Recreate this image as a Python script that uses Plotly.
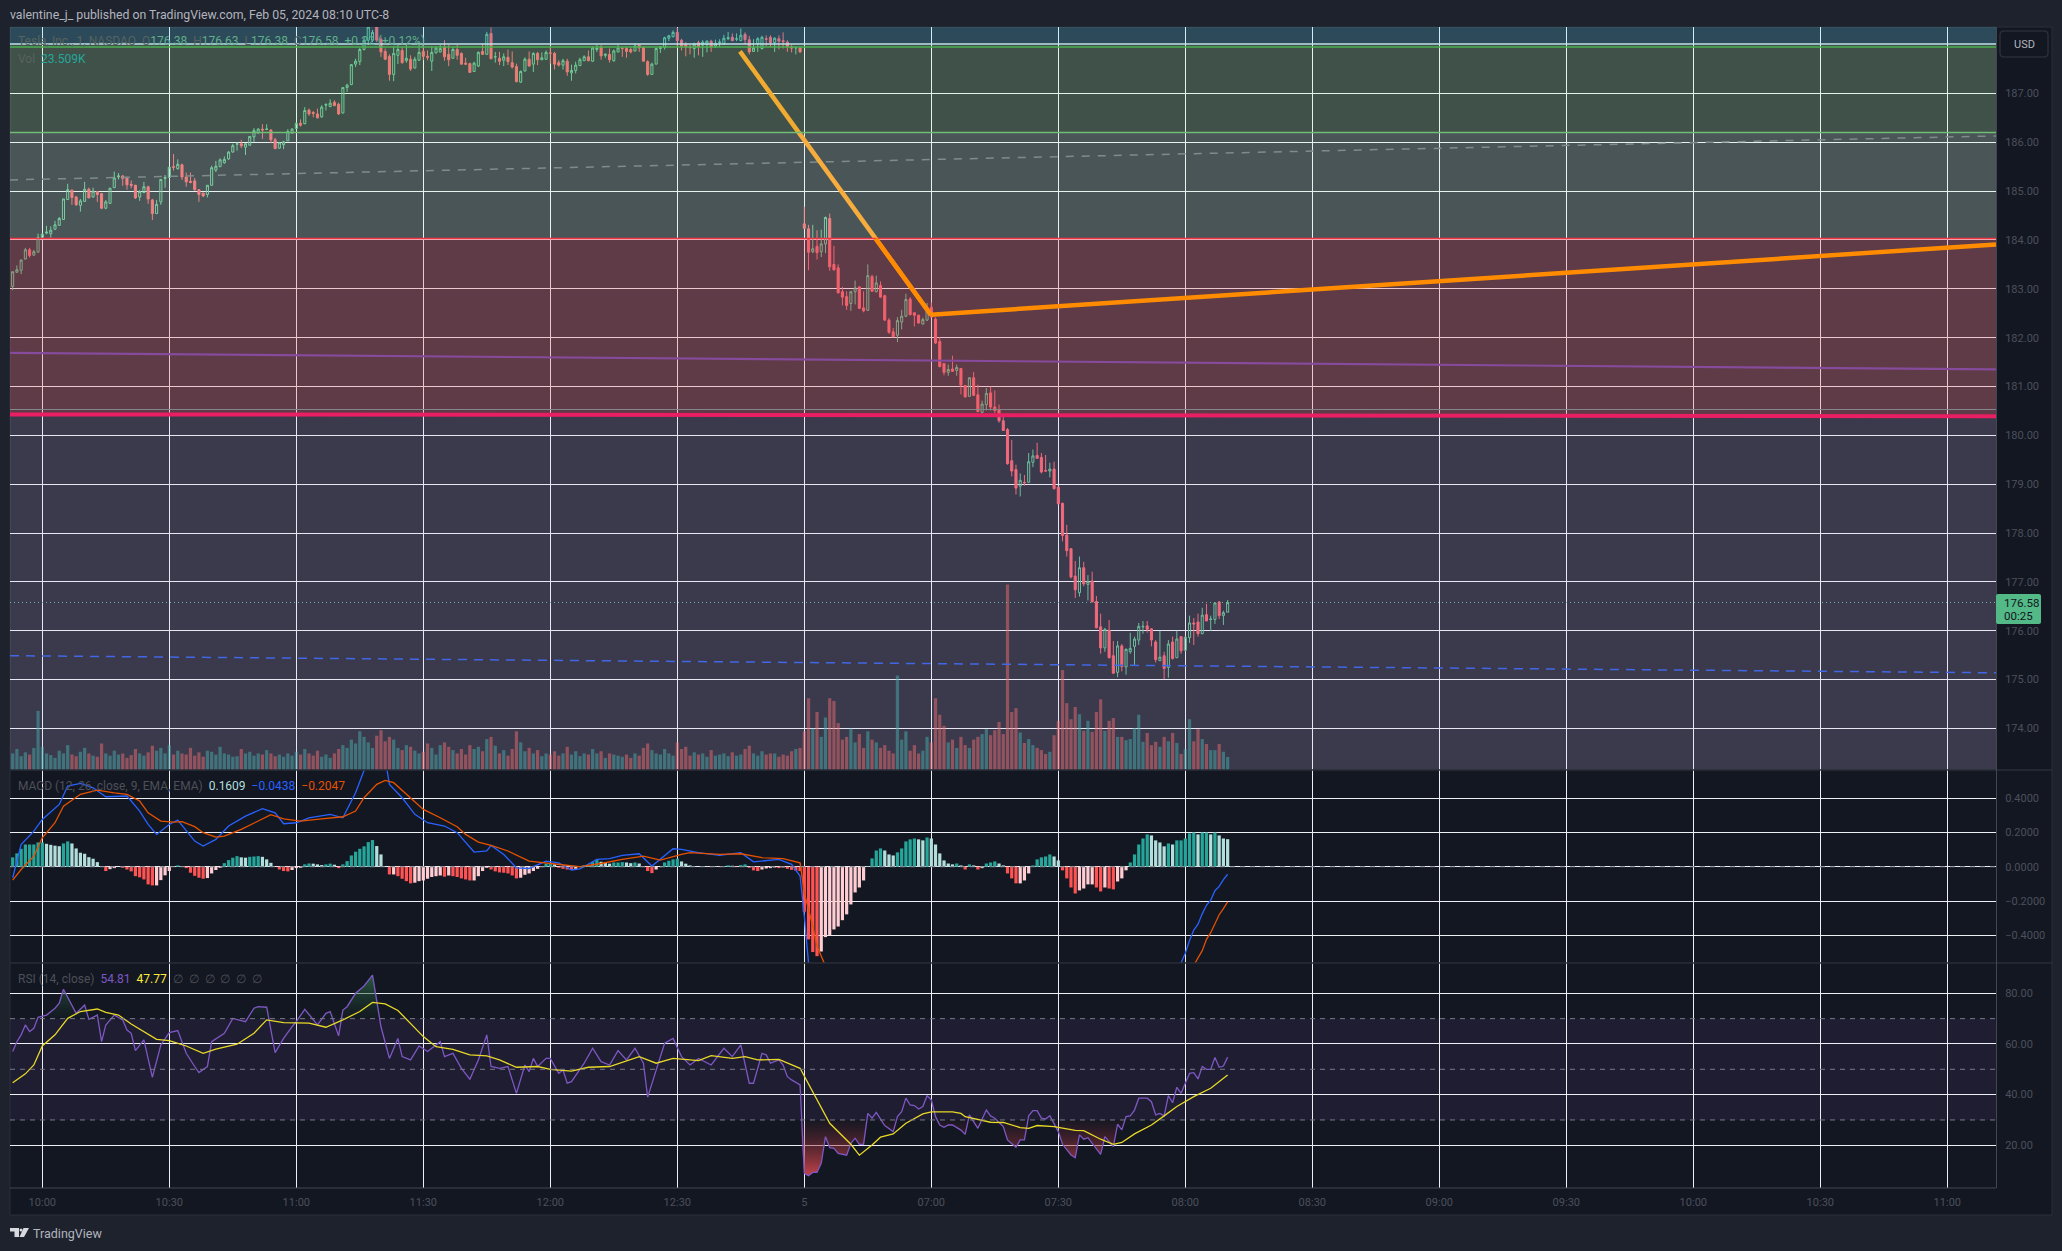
import plotly.graph_objects as go

W, H = 2062, 1251

bar_index = list(range(-7, 281))

open_ = [
183.05,183.34,183.38,183.61,183.80,183.69,183.75,184.05,184.14,184.13,
184.22,184.30,184.42,184.83,185.02,184.88,184.71,184.79,185.04,184.88,
184.99,184.95,184.65,184.75,185.07,185.29,185.31,185.27,185.14,185.12,
184.88,184.97,185.09,184.82,184.54,184.78,185.26,185.28,185.50,185.46,
185.54,185.29,185.20,185.21,185.03,184.96,184.93,185.12,185.43,185.50,
185.58,185.66,185.80,185.96,185.97,185.90,185.94,186.11,186.19,186.27,
186.26,186.25,186.05,185.88,185.95,186.03,186.19,186.28,186.39,186.38,
186.66,186.61,186.58,186.52,186.76,186.73,186.82,186.78,186.60,187.12,
187.18,187.60,187.65,187.90,188.09,188.09,188.40,188.11,187.86,187.76,
187.39,187.78,187.88,187.67,187.70,187.52,187.68,187.86,187.76,187.66,
187.83,187.85,187.95,187.80,187.72,187.90,187.82,187.62,187.61,187.45,
187.56,187.86,187.80,188.23,187.75,187.72,187.68,187.74,187.63,187.55,
187.23,187.46,187.70,187.60,187.82,187.69,187.70,187.83,187.82,187.63,
187.58,187.66,187.42,187.47,187.57,187.67,187.75,187.66,187.90,187.95,
187.78,187.80,187.67,187.85,187.92,187.92,187.90,187.87,187.99,187.94,
187.65,187.39,187.60,187.92,187.94,188.13,188.16,188.25,188.09,188.00,
187.95,187.92,188.04,187.99,188.00,188.07,187.97,188.04,188.01,188.12,
188.15,188.11,188.08,188.21,188.10,187.86,188.02,187.92,188.12,188.15,
188.04,188.12,188.08,188.05,187.95,187.93,187.93,184.33,184.23,183.76,
183.87,183.76,183.92,184.44,183.50,183.43,182.94,182.84,182.70,182.94,
183.04,182.61,182.56,183.25,182.94,183.07,182.86,182.36,182.12,182.05,
182.32,182.44,182.79,182.51,182.46,182.28,182.36,182.62,182.38,181.92,
181.47,181.29,181.36,181.33,181.37,181.02,180.80,181.18,180.83,180.47,
180.63,180.87,180.58,180.53,180.30,180.12,179.48,179.30,178.96,179.04,
179.04,179.45,179.59,179.55,179.28,179.27,179.31,178.94,178.61,177.96,
177.68,177.12,176.78,177.29,176.95,177.02,176.60,176.08,175.65,176.01,
175.49,175.15,175.69,175.26,175.57,175.68,175.81,176.08,176.10,176.04,
175.77,175.39,175.49,175.25,175.77,175.45,175.88,175.60,175.86,176.16,
176.18,175.94,176.33,176.23,176.23,176.59,176.31,176.38]

high = [
183.35,183.48,183.60,183.84,183.84,183.80,184.13,184.14,184.29,184.28,
184.39,184.47,184.84,185.15,185.03,184.90,184.84,185.19,185.07,185.07,
185.00,184.96,184.82,185.06,185.40,185.37,185.33,185.30,185.22,185.13,
185.02,185.19,185.11,184.84,184.82,185.24,185.33,185.49,185.76,185.65,
185.56,185.38,185.38,185.27,185.04,184.97,185.12,185.52,185.62,185.67,
185.71,185.82,185.97,186.00,186.05,185.98,186.12,186.29,186.29,186.37,
186.37,186.27,186.09,186.01,186.03,186.27,186.29,186.40,186.47,186.72,
186.69,186.64,186.69,186.76,186.80,186.88,186.86,186.81,187.12,187.20,
187.60,187.71,187.93,188.16,188.45,188.30,188.55,188.16,187.92,187.80,
187.97,187.99,187.95,187.99,187.78,187.75,188.05,187.99,187.88,187.97,
187.97,187.99,188.09,187.99,187.95,187.99,187.84,187.73,187.63,187.65,
187.86,188.02,188.26,188.35,187.85,187.85,187.82,187.90,187.86,187.61,
187.47,187.74,187.86,187.84,187.85,187.84,187.88,187.97,187.85,187.68,
187.71,187.71,187.59,187.65,187.73,187.78,187.88,187.97,188.00,187.99,
187.82,187.92,187.90,187.99,187.95,187.95,187.95,188.02,188.00,187.97,
187.68,187.63,187.94,187.97,188.16,188.20,188.29,188.34,188.12,188.05,
188.00,188.04,188.08,188.09,188.09,188.10,188.10,188.11,188.20,188.26,
188.23,188.23,188.33,188.25,188.18,188.11,188.15,188.18,188.19,188.19,
188.15,188.19,188.25,188.09,187.99,187.95,187.95,184.68,184.31,184.31,
184.20,184.21,184.48,184.54,183.88,183.50,183.04,182.95,182.96,183.17,
183.05,182.95,183.50,183.29,183.27,183.15,182.88,182.40,182.20,182.42,
182.57,182.90,182.83,182.51,182.47,182.41,182.71,182.72,182.42,182.01,
181.48,181.45,181.63,181.45,181.38,181.03,181.18,181.30,181.04,180.71,
180.97,181.00,180.92,180.63,180.38,180.15,179.91,179.40,179.22,179.19,
179.64,179.71,179.85,179.64,179.60,179.44,179.46,178.95,178.62,178.17,
177.69,177.43,177.52,177.41,177.14,177.21,176.71,176.35,176.06,176.22,
175.79,175.79,175.73,175.64,175.96,175.88,176.16,176.20,176.20,176.05,
175.81,176.00,175.57,175.81,175.88,176.00,175.88,175.88,176.31,176.26,
176.35,176.47,176.55,176.31,176.58,176.61,176.41,176.63]

low = [
182.97,183.33,183.30,183.60,183.64,183.68,183.75,184.04,184.12,184.05,
184.21,184.29,184.41,184.82,184.72,184.70,184.58,184.78,184.86,184.87,
184.78,184.63,184.63,184.74,185.07,185.24,185.11,185.03,185.06,184.84,
184.80,184.96,184.74,184.41,184.54,184.72,185.07,185.27,185.42,185.44,
185.23,185.09,185.16,185.01,184.78,184.88,184.87,185.11,185.39,185.50,
185.56,185.64,185.79,185.83,185.88,185.74,185.93,186.01,186.18,186.07,
186.25,185.98,185.86,185.87,185.86,186.03,186.18,186.27,186.32,186.37,
186.54,186.51,186.49,186.50,186.65,186.72,186.74,186.56,186.59,187.03,
187.17,187.54,187.58,187.88,187.99,188.05,188.05,187.75,187.68,187.26,
187.25,187.60,187.61,187.63,187.46,187.51,187.67,187.68,187.68,187.46,
187.82,187.84,187.67,187.56,187.71,187.69,187.59,187.59,187.42,187.44,
187.54,187.80,187.80,187.70,187.63,187.58,187.56,187.58,187.51,187.23,
187.22,187.45,187.55,187.44,187.58,187.68,187.69,187.61,187.49,187.55,
187.49,187.36,187.26,187.41,187.56,187.67,187.66,187.65,187.85,187.69,
187.73,187.63,187.65,187.84,187.75,187.73,187.82,187.86,187.85,187.65,
187.36,187.39,187.60,187.83,187.90,188.07,188.15,187.95,187.88,187.76,
187.80,187.73,187.78,187.75,187.84,187.85,187.93,187.95,188.00,188.09,
188.07,188.07,188.08,188.01,187.80,187.85,187.85,187.90,187.97,187.95,
187.85,187.90,187.92,187.85,187.84,187.80,187.83,184.23,183.38,183.73,
183.60,183.65,183.73,183.37,183.37,182.90,182.66,182.57,182.55,182.68,
182.59,182.52,182.55,182.94,182.93,182.82,182.34,182.08,182.01,181.91,
182.17,182.42,182.46,182.23,182.29,182.27,182.34,182.42,181.87,181.39,
181.23,181.22,181.31,181.22,180.84,180.77,180.80,180.81,180.47,180.45,
180.51,180.51,180.46,180.26,180.10,179.40,179.16,178.79,178.75,178.97,
179.03,179.35,179.53,179.22,179.26,179.14,178.89,178.59,177.83,177.52,
177.07,176.67,176.70,176.91,176.62,176.59,176.05,175.53,175.57,175.43,
175.12,175.05,175.17,175.10,175.53,175.30,175.71,175.94,175.96,175.68,
175.35,175.38,175.01,175.04,175.41,175.44,175.53,175.58,175.75,175.71,
175.88,175.93,176.20,176.00,176.14,176.24,176.12,176.38]

close = [
183.35,183.39,183.59,183.80,183.68,183.76,184.05,184.12,184.16,184.20,
184.31,184.44,184.84,185.03,184.87,184.72,184.80,185.04,184.86,185.00,
184.93,184.65,184.78,185.06,185.27,185.31,185.26,185.13,185.12,184.86,
184.99,185.09,184.84,184.54,184.73,185.24,185.28,185.49,185.49,185.55,
185.29,185.19,185.18,185.03,184.93,184.90,185.12,185.48,185.51,185.64,
185.65,185.80,185.93,185.97,185.93,185.97,186.12,186.24,186.27,186.25,
186.27,186.05,185.87,185.99,186.01,186.22,186.27,186.39,186.35,186.65,
186.58,186.59,186.50,186.72,186.77,186.80,186.75,186.58,187.12,187.17,
187.59,187.66,187.90,188.09,188.36,188.25,188.09,187.85,187.70,187.39,
187.82,187.90,187.63,187.72,187.50,187.70,187.84,187.76,187.74,187.84,
187.93,187.92,187.75,187.69,187.90,187.78,187.60,187.60,187.43,187.62,
187.84,187.80,188.21,187.71,187.75,187.66,187.75,187.65,187.54,187.24,
187.45,187.70,187.56,187.82,187.69,187.73,187.84,187.82,187.60,187.58,
187.67,187.44,187.47,187.58,187.69,187.75,187.67,187.93,187.93,187.77,
187.80,187.69,187.87,187.93,187.92,187.86,187.85,187.97,187.93,187.66,
187.39,187.60,187.92,187.96,188.14,188.18,188.25,188.08,187.97,187.95,
187.94,188.01,187.95,188.05,188.07,187.95,188.02,188.05,188.13,188.14,
188.08,188.12,188.19,188.10,187.85,187.93,188.12,188.15,188.11,188.04,
188.13,188.07,188.06,187.95,187.93,187.94,187.85,184.24,183.75,183.82,
183.74,183.92,184.46,183.45,183.39,182.92,182.83,182.66,182.94,183.02,
182.60,182.55,183.27,182.95,183.12,182.83,182.36,182.11,182.02,182.35,
182.44,182.78,182.47,182.46,182.30,182.37,182.61,182.42,181.89,181.41,
181.29,181.35,181.31,181.39,181.03,180.79,181.18,180.82,180.49,180.64,
180.86,180.58,180.51,180.30,180.10,179.42,179.27,178.92,179.08,179.03,
179.46,179.58,179.53,179.25,179.27,179.31,178.91,178.60,177.95,177.64,
177.10,176.84,177.29,176.96,177.01,176.59,176.06,175.65,176.03,175.45,
175.13,175.69,175.27,175.62,175.64,175.83,176.09,176.09,176.03,175.81,
175.41,175.46,175.23,175.73,175.43,175.83,175.59,175.87,176.16,176.14,
175.94,176.32,176.20,176.24,176.57,176.31,176.37,176.58]

volume_k = [
30,38,25,32,28,40,107,42,30,27,
22,35,30,45,28,25,33,40,30,26,
24,48,30,26,35,28,30,22,27,38,
30,26,32,44,35,40,30,45,28,35,
30,28,40,26,32,24,35,33,28,42,
30,28,24,25,38,30,33,26,30,28,
36,30,25,28,24,30,26,33,28,38,
30,26,35,24,28,22,30,38,45,40,
55,48,70,60,50,40,62,72,52,60,
55,40,36,45,42,35,30,33,48,40,
28,45,50,42,36,30,38,28,45,38,
42,34,56,60,44,30,36,26,38,70,
50,34,40,30,36,25,30,28,34,26,
30,42,28,34,25,30,28,38,30,34,
22,30,28,26,24,28,22,30,26,40,
48,36,30,28,38,30,26,50,38,42,
26,32,28,30,24,36,26,28,30,25,
32,26,28,38,44,30,26,34,28,30,
30,24,28,26,34,38,40,70,130,75,
105,60,95,130,125,85,55,60,75,50,
65,40,70,55,50,40,45,35,30,171,
55,70,35,45,30,35,60,50,130,100,
80,50,55,40,60,45,40,55,60,65,
74,63,72,87,65,336,105,112,68,49,
56,45,40,36,29,33,63,89,181,121,
92,114,101,71,89,69,105,128,71,89,
94,60,60,54,56,76,100,51,67,45,
51,42,60,52,67,49,29,38,92,52,
74,56,47,36,36,47,33,23.5]

macd_hist = [
.055,.078,.105,.13,.13,.13,.142,.142,.134,.128,
.123,.12,.136,.148,.136,.107,.082,.076,.056,.047,
.027,0,-.025,-.014,-.008,0,-.006,-.016,-.027,-.055,
-.062,-.074,-.103,-.109,-.109,-.078,-.05,-.025,0,.008,
0,-.008,-.035,-.053,-.064,-.07,-.066,-.039,-.019,-.006,
.021,.039,.053,.062,.055,.053,.058,.06,.062,.058,
.043,.023,0,-.016,-.025,-.027,-.019,-.008,-.006,.014,
.019,.018,.014,.01,.014,.018,.012,-.008,.014,.033,
.066,.088,.105,.119,.144,.156,.121,.072,0,-.045,
-.045,-.055,-.07,-.084,-.097,-.093,-.084,-.08,-.07,-.06,
-.055,-.051,-.058,-.051,-.055,-.06,-.068,-.074,-.08,-.08,
-.055,-.025,-.006,-.016,-.027,-.033,-.035,-.039,-.051,-.068,
-.064,-.047,-.039,-.025,-.012,-.002,.018,.023,.014,-.006,
-.012,-.016,-.019,-.012,0,.008,.008,.027,.039,.029,
.023,.018,.025,.025,.027,.025,.021,.025,.019,-.002,
-.025,-.037,-.016,-.002,.025,.035,.043,.047,.031,.018,
.008,.004,0,.002,.001,-.002,.002,-.002,.004,.008,
.006,-.002,.01,.014,-.006,-.021,-.025,-.016,-.01,-.008,
-.004,-.008,-.004,-.012,-.018,-.023,-.025,-.263,-.424,-.498,
-.522,-.495,-.411,-.399,-.366,-.349,-.312,-.278,-.22,-.15,
-.121,-.08,.002,.049,.095,.107,.095,.072,.066,.084,
.107,.148,.16,.165,.16,.154,.171,.165,.13,.078,
.037,.019,.014,.019,.008,-.016,.014,.008,-.016,-.008,
.019,.025,.031,.019,.008,-.039,-.068,-.097,-.097,-.08,
-.039,.008,.043,.055,.06,.072,.06,.037,-.021,-.068,
-.121,-.156,-.138,-.127,-.103,-.103,-.121,-.144,-.121,-.127,
-.132,-.086,-.068,-.021,.025,.072,.13,.165,.189,.183,
.154,.142,.119,.136,.13,.154,.154,.165,.195,.2,
.189,.2,.2,.189,.2,.183,.165,.161]

macd_x = [-7,-5,-2,0,4,6,9,12,15,20,23,25,27,30,32,34,36,38,41,44,48,52,55,57,60,63,68,71,74,77,81,82,85,88,91,95,98,102,105,106,109,112,115,119,122,125,127,131,134,137,141,144,149,151,155,160,165,168,174,177,179,180,181,183,190,210,240,260,269,270,271,272,273,274,275,276,277,278,279,280]
macd_y = [-.064,.130,.208,.276,.364,.471,.487,.461,.409,.413,.325,.247,.189,.247,.273,.208,.150,.121,.160,.238,.296,.339,.315,.251,.257,.286,.306,.286,.432,.627,.627,.481,.403,.306,.257,.238,.199,.086,.092,.125,.072,-.006,-.01,.033,.023,-.019,-.012,.043,.047,.066,.076,.004,.105,.101,.082,.066,.082,.029,.043,.014,-.054,-.288,-.561,-.85,-1.0,-.8,-.7,-.72,-.56,-.505,-.43,-.37,-.335,-.275,-.225,-.195,-.14,-.115,-.075,-.0438]

signal_x = [-7,-5,-2,0,3,5,9,13,17,20,23,25,28,31,33,36,38,41,43,47,51,54,57,61,66,71,74,76,79,81,83,86,90,94,98,100,103,106,110,115,119,123,127,132,137,142,146,151,153,160,165,170,175,179,180,182,183,185,190,210,240,260,272,274,275,276,277,278,279,280]
signal_y = [-.078,-.016,.062,.169,.257,.354,.423,.448,.432,.423,.384,.315,.267,.261,.263,.234,.199,.173,.179,.218,.267,.304,.280,.267,.280,.292,.325,.403,.481,.504,.491,.423,.335,.286,.234,.189,.144,.125,.092,.033,.023,.014,0,.019,.043,.062,.039,.072,.082,.072,.076,.053,.047,.023,-.152,-.346,-.463,-.58,-.8,-.85,-.72,-.75,-.575,-.49,-.424,-.385,-.33,-.28,-.245,-.2047]

rsi_x = [-7,-6,-5,-4,-3,-2,-1,1,3,4,5,8,10,11,13,14,15,17,19,20,21,22,24,26,28,30,32,34,36,37,39,40,43,45,48,50,51,53,55,57,59,60,62,65,67,68,70,71,72,74,76,78,80,82,84,85,87,89,91,94,95,97,99,101,103,105,106,108,110,112,114,115,116,117,119,120,122,123,124,125,128,130,132,134,136,138,140,142,143,146,147,149,151,153,155,158,161,163,165,167,168,170,171,172,174,175,176,177,179,180,181,182,183,184,185,186,187,188,190,191,192,193,194,195,196,197,199,201,202,203,204,205,206,207,208,209,210,211,212,213,214,215,217,218,219,221,223,224,225,227,228,230,231,232,233,234,235,236,237,238,240,241,243,244,245,246,247,250,251,253,254,255,256,257,258,259,261,262,263,264,265,266,267,268,269,271,272,273,274,275,276,277,278,279,280]
rsi_y = [57.0,60.9,63.6,67.5,64.9,66.2,70.5,71.4,74.1,76.1,81.6,72.1,75.4,69.7,71.4,60.9,67.5,71.4,69.5,65.5,64.2,57.4,61.6,46.8,59.6,64.5,65.3,56.3,51.1,48.7,51.1,60.9,64.2,70.1,68.8,74.1,74.7,74.5,56.6,62.2,66.8,68.8,73.7,67.5,72.1,72.8,63.2,73.4,74.7,80,82.9,87.2,66.8,54.3,62.2,55,53.7,59.2,57,60.9,55,56.3,50.4,46.1,53.7,63.6,51.1,50.4,51.1,40.5,51.7,49.1,54.3,51.1,54.3,54.3,48.4,49.7,44.5,45.1,52.4,58.3,53,51.7,57.4,53.7,58.3,52.4,39,54.3,60.3,62.2,55,51.7,54.3,51.7,58.3,55,59.6,44.5,44.5,56.3,55.7,52.4,53.7,51.7,47.1,45.8,43.8,8.9,8.0,9.3,9.3,12.9,23.4,19.1,18.8,16.8,16.1,20.8,22.8,20.4,20.4,32.6,30.7,33.0,27.8,25.4,31.3,33.3,38.6,35.9,35.7,34.3,35.3,39.6,37.9,31.3,28,27.1,28,28,26,24.3,32,26.7,33.9,31.6,30.7,27.4,22.1,19.2,22.1,22.1,31.6,33.7,33.7,30.7,30.4,31.7,25.4,20.4,16.2,15.1,24.1,22.4,23,16.4,23.4,19.5,28.3,26.1,31.3,31.6,33.9,38.6,38.6,37.2,32,32.6,31.6,39.6,36.8,42.9,40.5,48.4,48.7,46.2,51.1,50,50,54.7,50.8,51.3,54.81]

rsi_ma_x = [-7,-4,-2,0,3,6,9,13,15,18,21,24,27,30,34,38,41,46,50,53,57,63,67,71,75,78,81,84,87,90,93,97,101,105,108,112,117,120,125,129,134,141,145,149,155,158,163,166,169,174,179,182,186,191,193,196,198,201,204,208,210,215,217,218,224,227,231,233,235,239,244,246,250,253,255,258,262,265,268,272,276,280]
rsi_ma_y = [44.7,48.2,51.7,59.2,63.6,70.1,72.8,73.8,72.5,71.4,67.9,64.9,61.8,61.3,59.2,56.3,58,59.9,64.2,69.5,68.4,68.2,66.6,69.5,72.8,76.4,75.8,73.2,68.2,62.9,58.9,57.9,55.7,55.3,53.7,50.8,51.1,50,49.3,50.8,51.1,55,52.4,54.3,53.4,55.4,54.3,55,53.7,53.9,50.4,41.2,28.7,20.4,16.1,20.1,23.2,24.5,28.7,32.4,33.2,33.2,32.6,31.3,29.1,29,27,26.7,27.8,27.4,25.9,25.8,22.4,20.4,21.1,24.5,28,31.6,35.3,39.2,42.5,47.77]

# horizontal levels and drawn lines, prices
zone_levels = [188.36, 188.0, 186.2, 184.03, 180.43, 173.15]
orange_x = [164.8, 209.9, 461.5]
orange_y = [187.86, 182.47, 183.91]
edge_x = [-7.63, 461.5]
purple_y = [181.69, 181.35]
pink_y = [180.43, 180.39]
grey_dash_y = [185.23, 186.13]
blue_dash_y = [175.49, 175.14]
last_price = 176.58
level_lines = [188.01, 187.95, 186.2, 184.03, 180.53]

price_ticks = list(range(174, 188))
macd_ticks = [-0.4, -0.2, 0, 0.2, 0.4]
rsi_ticks = [20, 40, 60, 80]
time_tick_pos = list(range(0, 451, 30))
time_tick_text = ["10:00","10:30","11:00","11:30","12:00","12:30","5","07:00","07:30","08:00","08:30","09:00","09:30","10:00","10:30","11:00"]

BG = "#131722"
PAPER = "#1e222d"
GRID = "#eceff4"
AXTXT = "#4c505b"
FONT = "Roboto"
UP = "#53b987"
DOWN = "#f7525f"

def px(x): return x / W
def py(y): return 1 - y / H

fig = go.Figure()

# volume (base subplot of the price pane)
vol_colors = ["rgba(38,166,154,0.5)" if c >= o else "rgba(239,83,80,0.5)" for o, c in zip(open_, close)]
fig.add_trace(go.Bar(x=bar_index, y=volume_k, marker=dict(color=vol_colors, line_width=0), xaxis="x", yaxis="y4", width=0.76))

# price
fig.add_trace(go.Candlestick(
    x=bar_index, open=open_, high=high, low=low, close=close, xaxis="x", yaxis="y",
    increasing=dict(line=dict(color=UP, width=1), fillcolor="rgba(0,0,0,0)"),
    decreasing=dict(line=dict(color=DOWN, width=1), fillcolor=DOWN),
    whiskerwidth=0))

def seg(x, y, color, width, dash="solid", xa="x", ya="y"):
    fig.add_trace(go.Scatter(x=x, y=y, mode="lines", line=dict(color=color, width=width, dash=dash),
                             xaxis=xa, yaxis=ya, hoverinfo="skip"))

seg(edge_x, grey_dash_y, "#5d616b", 1.5, "8px,8px")
seg(edge_x, blue_dash_y, "#1c4fe0", 1.5, "9px,7px")
seg(edge_x, [last_price, last_price], UP, 1, "1px,3px")
seg(orange_x[:2], orange_y[:2], "#ff8f00", 4.5)   # first leg, tinted by the zones it crosses

# MACD pane
hist_colors = []
prev = 0
for v in macd_hist:
    if v >= 0:
        hist_colors.append("#26a69a" if v >= prev else "#b2dfdb")
    else:
        hist_colors.append("#ff5252" if v < prev else "#ffcdd2")
    prev = v
fig.add_trace(go.Bar(x=bar_index, y=macd_hist, marker=dict(color=hist_colors, line_width=0), xaxis="x2", yaxis="y2", width=0.76))
seg(macd_x, macd_y, "#2962ff", 1.3, xa="x2", ya="y2")
seg(signal_x, signal_y, "#e65100", 1.3, xa="x2", ya="y2")

# RSI pane
over = [max(v, 70) for v in rsi_y]
under = [min(v, 30) for v in rsi_y]
fig.add_trace(go.Scatter(x=rsi_x, y=[70] * len(rsi_x), mode="lines", line=dict(width=0, color="rgba(0,0,0,0)"), xaxis="x3", yaxis="y3", hoverinfo="skip"))
fig.add_trace(go.Scatter(x=rsi_x, y=over, mode="lines", line=dict(width=0, color="rgba(0,0,0,0)"), fill="tonexty", xaxis="x3", yaxis="y3", hoverinfo="skip",
    fillgradient=dict(type="vertical", start=88, stop=70, colorscale=[[0, "rgba(46,110,70,0.85)"], [1, "rgba(30,70,50,0.05)"]])))
fig.add_trace(go.Scatter(x=rsi_x, y=[30] * len(rsi_x), mode="lines", line=dict(width=0, color="rgba(0,0,0,0)"), xaxis="x3", yaxis="y3", hoverinfo="skip"))
fig.add_trace(go.Scatter(x=rsi_x, y=under, mode="lines", line=dict(width=0, color="rgba(0,0,0,0)"), fill="tonexty", xaxis="x3", yaxis="y3", hoverinfo="skip",
    fillgradient=dict(type="vertical", start=8, stop=30, colorscale=[[0, "rgba(205,70,75,0.95)"], [1, "rgba(120,40,50,0.05)"]])))
seg(rsi_x, rsi_y, "#7e57c2", 1.3, xa="x3", ya="y3")
seg(rsi_ma_x, rsi_ma_y, "#e8d927", 1.3, xa="x3", ya="y3")

shapes = []
# frame: chart block and axis strip
shapes.append(dict(type="rect", xref="paper", yref="paper", x0=px(10), x1=px(2052), y0=py(1215), y1=py(27),
                   fillcolor=BG, line=dict(color="#2a2e39", width=1), layer="below"))

# coloured price zones, laid over the marks
zone_fill = ["rgba(119,227,255,0.25)", "rgba(195,255,190,0.25)", "rgba(223,255,230,0.27)", "rgba(236,126,137,0.35)", "rgba(214,198,244,0.20)"]
for k, col in enumerate(zone_fill):
    shapes.append(dict(type="rect", xref="x domain", yref="y", x0=0, x1=1, y0=zone_levels[k + 1], y1=zone_levels[k],
                       fillcolor=col, line_width=0, layer="above"))

# drawn price levels, vivid over the zones
def price_line(x0, x1, y0, y1, color, width):
    shapes.append(dict(type="line", xref="x", yref="y", x0=x0, x1=x1, y0=y0, y1=y1,
                       line=dict(color=color, width=width), layer="above"))

for lv, col, wd in zip(level_lines, ["#bfe3ea", "#4caf50", "#72bd76", "#f23645", "#84868e"], [1.5, 1.5, 1.5, 1.5, 1.2]):
    price_line(edge_x[0], edge_x[1], lv, lv, col, wd)
price_line(edge_x[0], edge_x[1], purple_y[0], purple_y[1], "#864b9c", 2.2)
price_line(edge_x[0], edge_x[1], pink_y[0], pink_y[1], "#e91e63", 4)
frac = (orange_y[0] - zone_levels[3]) / (orange_y[0] - orange_y[1])
price_line(orange_x[0] + frac * (orange_x[1] - orange_x[0]), orange_x[1], zone_levels[3], orange_y[1], "#ff8c00", 4.5)
price_line(orange_x[1], orange_x[2], orange_y[1], orange_y[2], "#ff8c00", 4.5)

# RSI band and levels
shapes.append(dict(type="rect", xref="x3 domain", yref="y3", x0=0, x1=1, y0=30, y1=70,
                   fillcolor="rgba(126,87,194,0.1)", line_width=0, layer="below"))
for lv in (70, 50, 30):
    shapes.append(dict(type="line", xref="x3 domain", yref="y3", x0=0, x1=1, y0=lv, y1=lv,
                       line=dict(color="#787b86", width=1, dash="5px,5px"), layer="above"))
shapes.append(dict(type="line", xref="x2 domain", yref="y2", x0=0, x1=1, y0=0, y1=0,
                   line=dict(color="#787b86", width=1, dash="5px,5px"), layer="above"))
# pane dividers
for yp in (770, 963):
    shapes.append(dict(type="line", xref="paper", yref="paper", x0=px(10), x1=px(2052), y0=py(yp), y1=py(yp),
                       line=dict(color="#2a2e39", width=1.5), layer="above"))
shapes.append(dict(type="line", xref="paper", yref="paper", x0=px(10), x1=px(1996), y0=py(1188), y1=py(1188),
                   line=dict(color="#434651", width=1), layer="above"))
shapes.append(dict(type="line", xref="paper", yref="paper", x0=px(1996.5), x1=px(1996.5), y0=py(1188), y1=py(27),
                   line=dict(color="#434651", width=1), layer="above"))

# USD button
def rrect(x0, y0, x1, y1, r):
    a, b, c, d = px(x0), py(y0), px(x1), py(y1)
    rx, ry = r / W, r / H
    return (f"M {a+rx} {b} L {c-rx} {b} Q {c} {b} {c} {b-ry} L {c} {d+ry} Q {c} {d} {c-rx} {d} "
            f"L {a+rx} {d} Q {a} {d} {a} {d+ry} L {a} {b-ry} Q {a} {b} {a+rx} {b} Z")
shapes.append(dict(type="path", xref="paper", yref="paper", path=rrect(2000, 31, 2048, 57, 4),
                   fillcolor=BG, line=dict(color="#2a2e39", width=1.5), layer="above"))
# last price tag
shapes.append(dict(type="path", xref="paper", yref="paper", path=rrect(1996, 594, 2041, 624, 2),
                   fillcolor=UP, line_width=0, layer="above"))
# TradingView mark
for p in [
    [(10, 1228), (19, 1228), (19, 1237), (14.5, 1237), (14.5, 1231.5), (10, 1231.5)],
    [(23.5, 1228), (29, 1228), (24, 1237), (19.5, 1237)],
]:
    shapes.append(dict(type="path", xref="paper", yref="paper",
                       path="M " + " L ".join(f"{px(a)} {py(b)}" for a, b in p) + " Z",
                       fillcolor="#d8d9de", line_width=0, layer="above"))
shapes.append(dict(type="circle", xref="paper", yref="paper", x0=px(19.5), x1=px(22.5), y0=py(1231.5), y1=py(1228.5),
                   fillcolor="#d8d9de", line_width=0, layer="above"))

def label(x, y, text, size=11.5, color=AXTXT, anchor="left", font=FONT):
    return dict(xref="paper", yref="paper", x=px(x), y=py(y), text=text, showarrow=False, xanchor=anchor, yanchor="middle",
                align="left", font=dict(family=font, size=size, color=color), borderpad=0, borderwidth=0)

def span(c, t):
    return f'<span style="color:{c}">{t}</span>'

DIM = "#4d5058"
V = "#5fae8a"
annotations = [
    label(10, 15, "valentine_j_ published on TradingView.com, Feb 05, 2024 08:10 UTC-8", 12.3, "#b2b5be"),
    label(18, 41, span("#566460", "Tesla, Inc., 1, NASDAQ&nbsp; O") + span(V, "176.38") + span("#566460", "&nbsp; H") + span(V, "176.63")
          + span("#566460", "&nbsp; L") + span(V, "176.38") + span("#566460", "&nbsp; C") + span(V, "176.58") + span(V, "&nbsp; +0.22 (+0.12%)"), 12),
    label(18, 59, span("#566460", "Vol&nbsp; ") + span("#26a69a", "23.509K"), 12),
    label(18, 786, span(DIM, "MACD (12, 26, close, 9, EMA, EMA)&nbsp; ") + span("#b2dfdb", "0.1609") + span("#2962ff", "&nbsp; −0.0438") + span("#e65100", "&nbsp; −0.2047"), 12),
    label(18, 979, span(DIM, "RSI (14, close)&nbsp; ") + span("#7e57c2", "54.81") + span("#ffeb3b", "&nbsp; 47.77") + span(DIM, "&nbsp; ∅&nbsp; ∅&nbsp; ∅&nbsp; ∅&nbsp; ∅&nbsp; ∅"), 12),
    label(2024, 44, "USD", 11, "#b2b5be", "center"),
    label(2004, 603, "176.58", 11.5, "#131722"),
    label(2004, 616, "00:25", 11.5, "#131722"),
    label(33, 1233, "TradingView", 12.5, "#b2b5be"),
]

fig.update_layout(
    width=W, height=H, margin=dict(l=0, r=0, t=0, b=0), autosize=False,
    paper_bgcolor=PAPER, plot_bgcolor=BG, showlegend=False, bargap=0.24, barmode="overlay",
    font=dict(family=FONT, size=11, color=AXTXT), hovermode=False, dragmode=False,
    shapes=shapes, annotations=annotations,
)

dom_x = [px(10), px(1996)]
x_common = dict(domain=dom_x, range=edge_x, showgrid=True, gridcolor=GRID, gridwidth=1, zeroline=False,
                tickmode="array", tickvals=time_tick_pos, ticktext=time_tick_text)
fig.update_layout(
    xaxis=dict(**x_common, anchor="y4", showticklabels=False, ticks=""),
    xaxis2=dict(**x_common, anchor="y2", matches="x", showticklabels=False, ticks=""),
    xaxis3=dict(**x_common, anchor="y3", matches="x", showticklabels=True, ticks="outside", ticklen=4, tickcolor=BG,
                tickfont=dict(family=FONT, size=11, color=AXTXT)),
    yaxis4=dict(domain=[py(770), py(27)], range=[0, 1345], visible=False, anchor="x", showgrid=False, zeroline=False),
    yaxis=dict(domain=[py(770), py(27)], range=[173.15, 188.36], side="right", overlaying="y4", anchor="x",
               tickmode="array", tickvals=price_ticks, tickformat=".2f", showgrid=True, gridcolor=GRID, gridwidth=1,
               zeroline=False, ticks="outside", ticklen=6, tickcolor=BG, tickfont=dict(family=FONT, size=11, color=AXTXT)),
    yaxis2=dict(domain=[py(963), py(770)], range=[-0.562, 0.565], side="right", anchor="x2",
                tickmode="array", tickvals=macd_ticks, tickformat=".4f", showgrid=True, gridcolor=GRID, gridwidth=1,
                zeroline=False, ticks="outside", ticklen=6, tickcolor=BG, tickfont=dict(family=FONT, size=11, color=AXTXT)),
    yaxis3=dict(domain=[py(1188), py(963)], range=[3.14, 91.96], side="right", anchor="x3",
                tickmode="array", tickvals=rsi_ticks, tickformat=".2f", showgrid=True, gridcolor=GRID, gridwidth=1,
                zeroline=False, ticks="outside", ticklen=6, tickcolor=BG, tickfont=dict(family=FONT, size=11, color=AXTXT)),
)
fig.layout.xaxis.rangeslider = dict(visible=False)

fig.write_html("out.html", config={"displayModeBar": False, "staticPlot": True},
               post_script="document.body.style.margin='0';document.body.style.background='#1e222d';document.documentElement.style.overflow='hidden';")
